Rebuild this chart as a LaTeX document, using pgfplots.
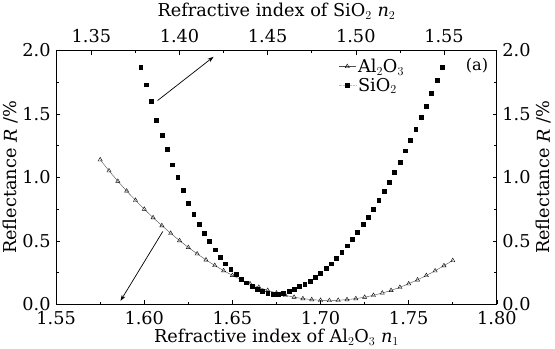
\documentclass[border=0pt]{standalone}
\usepackage{fontspec}
\setmainfont{DejaVu Serif}
\usepackage{pgfplots}
\pgfplotsset{compat=1.18}
\usetikzlibrary{arrows.meta}

\pgfplotstableread{
n R
1.575 1.139
1.580 1.052
1.585 0.970
1.590 0.893
1.595 0.820
1.600 0.750
1.605 0.683
1.610 0.620
1.615 0.560
1.620 0.502
1.625 0.448
1.630 0.398
1.635 0.350
1.640 0.306
1.645 0.265
1.650 0.228
1.655 0.194
1.660 0.162
1.665 0.134
1.670 0.110
1.675 0.089
1.680 0.071
1.685 0.056
1.690 0.045
1.695 0.037
1.700 0.032
1.705 0.030
1.710 0.032
1.715 0.037
1.720 0.045
1.725 0.056
1.730 0.071
1.735 0.089
1.740 0.110
1.745 0.134
1.750 0.162
1.755 0.193
1.760 0.227
1.765 0.264
1.770 0.305
1.775 0.345
}\alo

\pgfplotstableread{
n R
1.378 1.87
1.381 1.73
1.384 1.60
1.387 1.45
1.390 1.33
1.393 1.22
1.396 1.10
1.399 1.00
1.402 0.90
1.405 0.80
1.408 0.71
1.411 0.63
1.414 0.56
1.417 0.495
1.420 0.43
1.423 0.37
1.426 0.32
1.429 0.275
1.432 0.235
1.435 0.20
1.438 0.17
1.441 0.143
1.444 0.122
1.447 0.103
1.450 0.088
1.453 0.080
1.456 0.080
1.459 0.090
1.462 0.106
1.465 0.122
1.468 0.140
1.471 0.160
1.474 0.185
1.477 0.212
1.480 0.245
1.483 0.283
1.486 0.320
1.489 0.362
1.492 0.410
1.495 0.462
1.498 0.515
1.501 0.570
1.504 0.632
1.507 0.685
1.510 0.750
1.513 0.820
1.516 0.890
1.519 0.962
1.522 1.040
1.525 1.120
1.528 1.210
1.531 1.295
1.534 1.380
1.537 1.475
1.540 1.560
1.543 1.660
1.546 1.765
1.549 1.870
}\sio

\begin{document}
\begin{tikzpicture}
\pgfplotsset{
  every axis/.append style={
    font=\fontsize{17.5}{20}\selectfont,
    scale only axis, width=434bp, height=250bp,
    ymin=0, ymax=2.0,
    ytick={0,0.5,1.0,1.5,2.0},
    minor x tick num=1, minor y tick num=1,
    tick align=inside,
    major tick length=4bp, minor tick length=2.5bp,
    every tick/.style={black, line width=0.6pt},
    axis line style={line width=1pt},
    /pgf/number format/assume math mode=true,
    yticklabel style={/pgf/number format/.cd, fixed, fixed zerofill, precision=1},
    xticklabel style={/pgf/number format/.cd, fixed, fixed zerofill, precision=2},
  },
}
\begin{axis}[
  axis x line*=bottom, axis y line*=left,
  xmin=1.55, xmax=1.80,
  xtick={1.55,1.60,1.65,1.70,1.75,1.80},
  xticklabel style={/tikz/yshift=-3bp},
  yticklabel style={/tikz/xshift=-2bp},
  xlabel={Refractive index of Al$_2$O$_3$ \textit{n}$_1$},
  ylabel={Reflectance \textit{R} /\%},
  xlabel style={yshift=2bp},
  ylabel style={yshift=-3bp},
]
\addplot[gray!60!black, line width=0.4pt, mark=triangle, mark size=2.4pt,
  mark options={solid, black, line width=0.4pt}] table[x=n,y=R] {\alo};
\draw[-{Stealth[length=6bp,width=4bp]}, line width=0.7pt] (axis cs:1.6105,0.574) -- (axis cs:1.5865,0.027);
\draw[-{Stealth[length=6bp,width=4bp]}, line width=0.7pt] (axis cs:1.6076,1.606) -- (axis cs:1.6393,1.95);
\node[font=\fontsize{16}{18}\selectfont] at (rel axis cs:0.955,0.94) {(a)};
\end{axis}
\begin{axis}[
  axis x line*=top, axis y line*=right,
  xmin=1.33, xmax=1.58,
  xtick={1.35,1.40,1.45,1.50,1.55},
  xticklabel style={/tikz/yshift=4bp},
  yticklabel style={/tikz/xshift=2bp},
  xlabel={Refractive index of SiO$_2$ \textit{n}$_2$},
  ylabel={Reflectance \textit{R} /\%},
  xlabel style={yshift=3bp},
  ylabel style={yshift=1bp},
  legend style={draw=none, fill=none, at={(0.64,0.975)}, anchor=north west,
    font=\fontsize{17.5}{20}\selectfont, row sep=0bp, inner sep=0bp},
  legend cell align=left,
]
\addlegendimage{gray!60!black, line width=0.4pt, mark=triangle, mark size=2.4pt, mark options={solid, black, line width=0.4pt}}
\addlegendentry{Al$_2$O$_3$}
\addlegendimage{gray!50, densely dotted, line width=0.4pt, mark=square*, mark size=1.9pt, mark options={solid, black}}
\addlegendentry{SiO$_2$}
\addplot[only marks, mark=square*, mark size=1.9pt, black, forget plot] table[x=n,y=R] {\sio};
\end{axis}
\end{tikzpicture}
\end{document}
